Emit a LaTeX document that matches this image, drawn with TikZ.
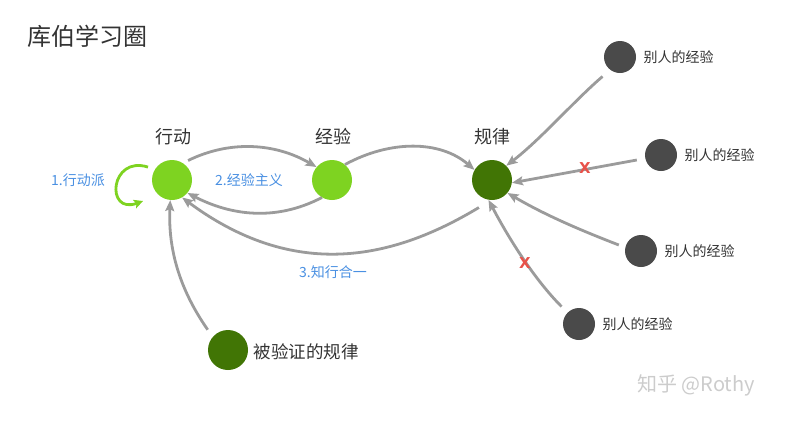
\documentclass[tikz,border=0pt]{standalone}
\usepackage{fontspec}
\setmainfont{Noto Sans CJK SC}
\newfontfamily\xfont{DejaVu Sans}
\usetikzlibrary{arrows.meta}
\definecolor{lgreen}{HTML}{7ED321}
\definecolor{dgreen}{HTML}{417505}
\definecolor{dgray}{HTML}{4A4A4A}
\definecolor{agray}{HTML}{9B9B9B}
\definecolor{lblue}{HTML}{4A90E2}
\definecolor{txt}{HTML}{333333}
\definecolor{xred}{HTML}{E8524A}
\begin{document}
\begin{tikzpicture}[x=1pt,y=-1pt,
  big/.style={circle,minimum size=40pt,inner sep=0pt},
  small/.style={circle,minimum size=32pt,inner sep=0pt,fill=dgray},
  lab/.style={text=txt,font=\fontsize{18}{20}\selectfont},
  slab/.style={text=txt,font=\fontsize{14}{16}\selectfont},
  blab/.style={text=lblue,font=\fontsize{14}{16}\selectfont},
  conn/.style={agray,line width=2.8pt,-{Stealth[length=11pt,width=9pt,inset=2pt]}},
  xmark/.style={text=xred,font=\xfont\bfseries\fontsize{15}{15}\selectfont}]
\useasboundingbox (0,0) rectangle (789,421);
\node[text=txt,font=\fontsize{24}{26}\selectfont,anchor=west] (title) at (24,36) {库伯学习圈};
% main nodes
\node[big,fill=lgreen] (act) at (172,180) {};
\node[big,fill=lgreen] (exp) at (332,180) {};
\node[big,fill=dgreen] (law) at (492,180) {};
\node[big,fill=dgreen] (ver) at (228,350) {};
\node[lab] (actl) at (173,137) {行动};
\node[lab] (expl) at (333,137) {经验};
\node[lab] (lawl) at (492,137) {规律};
\node[text=txt,font=\fontsize{17.5}{19}\selectfont,anchor=west] (verl) at (250,352) {被验证的规律};
% others
\node[small] (o1) at (620,57) {};
\node[small] (o2) at (661,155) {};
\node[small] (o3) at (641,251) {};
\node[small] (o4) at (579,324) {};
\node[slab,anchor=west] at (o1.east) [xshift=4pt] (o1l) {别人的经验};
\node[slab,anchor=west] at (o2.east) [xshift=4pt] (o2l) {别人的经验};
\node[slab,anchor=west] at (o3.east) [xshift=4pt] (o3l) {别人的经验};
\node[slab,anchor=west] at (o4.east) [xshift=4pt] (o4l) {别人的经验};
% blue labels
\node[blab] (b1) at (78,180) {1.行动派};
\node[blab] (b2) at (249,180) {2.经验主义};
\node[blab] (b3) at (333,272) {3.知行合一};
% connectors
\draw[conn] (act.60) ++(6,-2) .. controls (230,140) and (275,143) .. (exp.140);
\draw[conn] (exp.-120) .. controls (275,222) and (230,215) .. (act.-40);
\draw[conn] (exp.50) .. controls (390,140) and (440,140) .. (law.150);
\draw[conn] (law.-120) ++(-3,10) .. controls (400,255) and (300,285) .. (act.-60);
\draw[conn] (ver.135) ++(-6,-6) .. controls (180,290) and (168,250) .. (act.-95);
\draw[lgreen,line width=2.8pt,-{Stealth[length=9pt,width=9pt,inset=2pt]}] (act.160) ++(-5,-6) .. controls (110,155) and (105,215) .. (143,201);
\draw[conn] (o1.-135) ++(-6,8) .. controls (575,100) and (540,140) .. (law.45);
\draw[conn] (o2.180) ++(-8,5) -- (law.-8);
\draw[conn] (o3.180) ++(-6,-6) .. controls (580,230) and (545,215) .. (law.-40);
\draw[conn] (o4.135) ++(-6,-6) .. controls (540,285) and (515,250) .. (law.-100);
\node[xmark] (x1) at (585,168) {X};
\node[xmark] (x2) at (525,263) {X};
% watermark
\node[text=black!20,font=\fontsize{20}{22}\selectfont] (wm) at (696,385) {知乎 @Rothy};
\end{tikzpicture}
\end{document}
